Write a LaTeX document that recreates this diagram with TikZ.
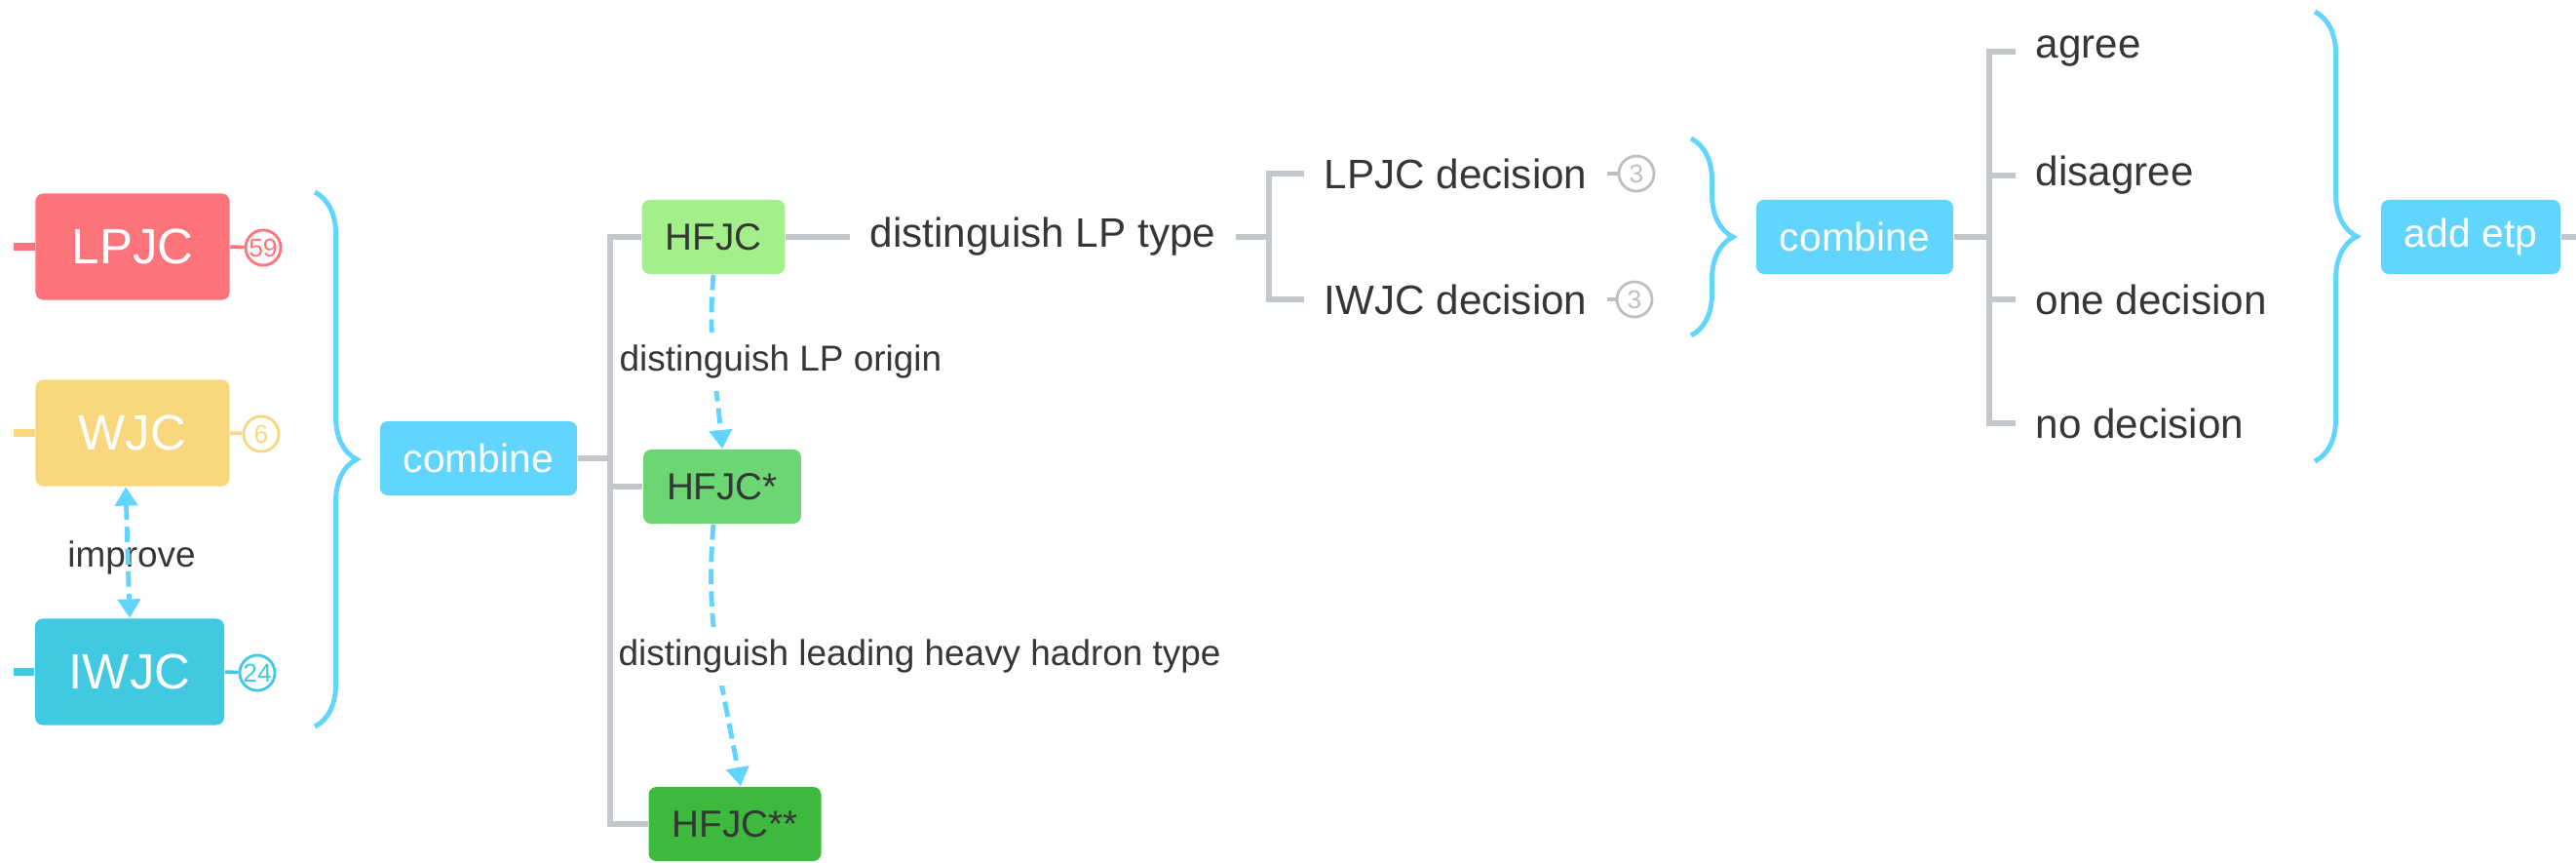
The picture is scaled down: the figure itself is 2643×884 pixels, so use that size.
\documentclass[tikz,border=0pt]{standalone}
\usepackage{fontspec}
\setmainfont{Liberation Sans}
\usetikzlibrary{arrows.meta, calc, decorations.pathreplacing}

\definecolor{lpred}{HTML}{FF737A}
\definecolor{wjcyel}{HTML}{F9D77E}
\definecolor{iwjccyan}{HTML}{40C9E0}
\definecolor{sky}{HTML}{62D5FF}
\definecolor{hfa}{HTML}{A3F08A}
\definecolor{hfb}{HTML}{6BD672}
\definecolor{hfc}{HTML}{3DBA3E}
\definecolor{linegray}{HTML}{C3C6CB}
\definecolor{cntgray}{HTML}{BDBFC2}
\definecolor{txtdark}{HTML}{363636}

\tikzset{
	box/.style={rounded corners=0.08cm, inner xsep=0.24cm, inner ysep=0pt, minimum height=0.76cm},
	jcbox/.style={box, text=white, minimum width=1.99cm, minimum height=1.09cm, font=\fontsize{14.5}{17}\selectfont},
	hfbox/.style={box, text=txtdark, font=\fontsize{11}{13}\selectfont},
	skybox/.style={box, fill=sky, text=white, font=\fontsize{11.6}{14}\selectfont},
	leaf/.style={text=txtdark, inner xsep=0.2cm, font=\fontsize{12}{14}\selectfont},
	edgelabel/.style={fill=white, text=txtdark, inner xsep=0.03cm, inner ysep=0.13cm, font=\fontsize{10.5}{12}\selectfont},
	branch/.style={draw=linegray, line width=1.6pt},
	counter/.style={circle, draw, line width=0.8pt, minimum size=0.36cm, inner sep=0pt, font=\fontsize{7.5}{9}\selectfont},
	tipsky/.tip={Triangle[width=6.5pt, length=5.5pt]},
	flow/.style={draw=sky, line width=1.4pt, dash pattern=on 4.5pt off 2pt, -tipsky},
	twoway/.style={flow, tipsky-tipsky},
	curly/.style={draw=sky, line width=1.4pt, decorate, decoration={brace, amplitude=0.43cm}},
}

\begin{document}
\begin{tikzpicture}[x=0.01cm, y=-0.01cm]
	\useasboundingbox (0,0) rectangle (2643,884);

	% jet collections
	\node[jcbox, fill=lpred]		(lpjc) at (136,253) {LPJC};
	\node[jcbox, fill=wjcyel]		(wjc) at (136,444) {WJC};
	\node[jcbox, fill=iwjccyan, minimum width=1.94cm]	(iwjc) at (133,689) {IWJC};
	\coordinate (lpjcin) at (14,253);
	\coordinate (wjcin) at (14,444);
	\coordinate (iwjcin) at (14,689);
	\draw[lpred, line width=2.4pt]		(lpjcin) -- (lpjc.west);
	\draw[wjcyel, line width=2.4pt]		(wjcin) -- (wjc.west);
	\draw[iwjccyan, line width=2.4pt]	(iwjcin) -- (iwjc.west);
	\node[counter, draw=lpred, text=lpred]		(n59) at (270,254) {59};
	\node[counter, draw=wjcyel, text=wjcyel]	(n6) at (268,445) {6};
	\node[counter, draw=iwjccyan, text=iwjccyan]	(n24) at (264,690) {24};
	\draw[lpred, line width=1pt]		(lpjc.east) -- (n59);
	\draw[wjcyel, line width=1pt]		(wjc.east) -- (n6);
	\draw[iwjccyan, line width=1pt]		(iwjc.east) -- (n24);
	\node[edgelabel, fill=none]	(improve) at (135,572) {improve};
	\draw[twoway]	([xshift=-0.07cm]wjc.south) -- (iwjc.north);

	\draw[curly]	(323,197) -- (323,745);
	\node[skybox]	(comb1) at (491,470) {combine};

	% heavy flavour jets
	\node[hfbox, fill=hfa]	(hfjc) at (732,243) {HFJC};
	\node[hfbox, fill=hfb]	(hfjcs) at (741,499) {HFJC*};
	\node[hfbox, fill=hfc]	(hfjcss) at (754,845) {HFJC**};
	\draw[branch]	(comb1.east) -- ++(33,0) coordinate (t1);
	\draw[branch]	(hfjc.west) -| (t1) |- (hfjcss.west);
	\draw[branch]	(t1) |- (hfjcs.west);
	\draw[flow]	(hfjc.south) to[out=-95, in=95] (hfjcs.north);
	\draw[flow]	([xshift=-0.09cm]hfjcs.south) to[out=-95, in=100] ([xshift=0.06cm]hfjcss.north);
	\node[edgelabel, anchor=west]	(lporigin) at (632,371) {distinguish LP origin};
	\node[edgelabel, anchor=west]	(hhtype) at (631,673) {distinguish leading heavy hadron type};

	% LP type decision
	\node[leaf]	(lptype) at (1070,243) {distinguish LP type};
	\draw[branch]	(hfjc.east) -- (lptype.west);
	\draw[branch]	(lptype.east) -- ++(34,0) coordinate (t2);
	\node[leaf, anchor=west]	(lpdec) at (1338,178) {LPJC decision};
	\node[leaf, anchor=west]	(iwdec) at (1338,307) {IWJC decision};
	\draw[branch]	(lpdec.west) -| (t2) |- (iwdec.west);
	\node[counter, draw=cntgray, text=cntgray]	(n3a) at (1679,178) {3};
	\node[counter, draw=cntgray, text=cntgray]	(n3b) at (1677,307) {3};
	\draw[cntgray, line width=1pt]	(lpdec.east) -- (n3a);
	\draw[cntgray, line width=1pt]	(iwdec.east) -- (n3b);

	\draw[curly]	(1735,142) -- (1735,344);
	\node[skybox]	(comb2) at (1903,243) {combine};

	% combined decision
	\draw[branch]	(comb2.east) -- ++(36,0) coordinate (t3);
	\node[leaf, anchor=west]	(agree) at (2068,53) {agree};
	\node[leaf, anchor=west]	(disagree) at (2068,180) {disagree};
	\node[leaf, anchor=west]	(onedec) at (2068,307) {one decision};
	\node[leaf, anchor=west]	(nodec) at (2068,434) {no decision};
	\draw[branch]	(agree.west) -| (t3) |- (nodec.west);
	\draw[branch]	(t3) |- (disagree.west);
	\draw[branch]	(t3) |- (onedec.west);

	\draw[curly]	(2375,12) -- (2375,473);
	\node[skybox]	(addetp) at (2535,243) {add etp};
	\coordinate (etpout) at (2643,243);
	\draw[branch]	(addetp.east) -- (etpout);
\end{tikzpicture}
\end{document}
